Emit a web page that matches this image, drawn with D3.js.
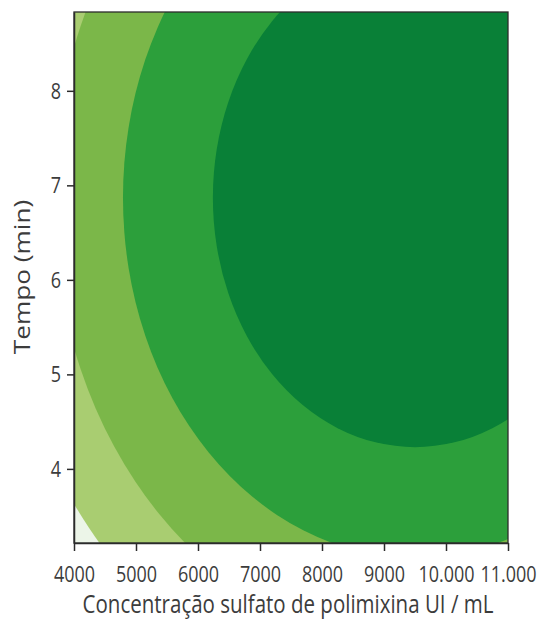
<!DOCTYPE html>
<html>
<head>
<meta charset="utf-8">
<script src="https://cdn.jsdelivr.net/npm/d3@7"></script>
<style>
  body { margin: 0; background: #fff; }
  svg text { font-family: "Open Sans", sans-serif; fill: #3c3c3c; }
</style>
</head>
<body>
<div id="chart"></div>
<script>
    // response surface: concentric contour ellipses
    const centerConc = 9500;     // UI/mL
    const centerTime = 6.87;     // min
    const bandRadiusConc = [6800, 5840, 4710, 3260];   // semi-axis, UI/mL
    const bandRadiusTime = [5.51, 4.73, 3.81, 2.64];   // semi-axis, min
    const bandColors = ["#a9cd71", "#7bb749", "#2c9f3b", "#098037"];
    const baseColor = "#ecf5e8";

    const xTicks = [4000, 5000, 6000, 7000, 8000, 9000, 10000, 11000];
    const xTickLabels = ["4000", "5000", "6000", "7000", "8000", "9000", "10.000", "11.000"];
    const yTicks = [4, 5, 6, 7, 8];

    var width = 540, height = 621;
    var margin = {top: 12, right: 32, bottom: 78, left: 74};
    var innerW = width - margin.left - margin.right;
    var innerH = height - margin.top - margin.bottom;
    var stretch = 1.22;   // the original text is taller than it is wide

    var svg = d3.select("#chart").append("svg")
        .attr("width", width)
        .attr("height", height);

    var g = svg.append("g")
        .attr("transform", `translate(${margin.left},${margin.top})`);

    var x = d3.scaleLinear().domain([4000, 11000]).range([0, innerW]);
    var y = d3.scaleLinear().domain([3.216, 8.834]).range([innerH, 0]);

    svg.append("clipPath").attr("id", "plotclip")
        .append("rect").attr("width", innerW).attr("height", innerH);

    var plot = g.append("g").attr("clip-path", "url(#plotclip)");

    plot.append("rect")
        .attr("width", innerW)
        .attr("height", innerH)
        .attr("fill", baseColor);

    plot.selectAll("ellipse")
        .data(bandRadiusConc)
        .enter().append("ellipse")
        .attr("cx", x(centerConc))
        .attr("cy", y(centerTime))
        .attr("rx", d => x(centerConc + d) - x(centerConc))
        .attr("ry", (d, i) => y(centerTime - bandRadiusTime[i]) - y(centerTime))
        .attr("fill", (d, i) => bandColors[i]);

    // frame
    g.append("rect")
        .attr("width", innerW)
        .attr("height", innerH)
        .attr("fill", "none")
        .attr("stroke", "#2b2b2b")
        .attr("stroke-width", 1.3);

    var xAxis = g.append("g")
        .attr("transform", `translate(0,${innerH})`)
        .call(d3.axisBottom(x).tickValues(xTicks)
            .tickFormat((d, i) => xTickLabels[i])
            .tickSizeInner(8).tickSizeOuter(0));

    var yAxis = g.append("g")
        .call(d3.axisLeft(y).tickValues(yTicks)
            .tickFormat(d3.format("d"))
            .tickSizeInner(7).tickSizeOuter(0).tickPadding(6));

    [xAxis, yAxis].forEach(a => {
        a.select(".domain").attr("stroke", "#2b2b2b").attr("stroke-width", 1.5);
        a.selectAll(".tick line").attr("stroke", "#2b2b2b").attr("stroke-width", 1.5);
        a.selectAll(".tick text")
            .style("font-family", "'Open Sans', sans-serif")
            .style("font-size", "18px")
            .attr("fill", "#3c3c3c");
    });

    xAxis.selectAll(".tick text")
        .attr("y", 0).attr("dy", 0)
        .attr("transform", `translate(0,38.5) scale(1,${stretch})`);

    yAxis.selectAll(".tick text")
        .attr("dy", "0.34em")
        .attr("transform", `scale(1,${stretch})`);

    svg.append("text")
        .attr("transform", `translate(${margin.left + innerW / 2 - 3},613) scale(1,${stretch})`)
        .attr("text-anchor", "middle")
        .style("font-size", "20.5px")
        .text("Concentração sulfato de polimixina UI / mL");

    svg.append("text")
        .attr("transform", `translate(30,277) scale(1,${stretch}) rotate(-90)`)
        .attr("text-anchor", "middle")
        .style("font-size", "21.5px")
        .text("Tempo (min)");
</script>
</body>
</html>
